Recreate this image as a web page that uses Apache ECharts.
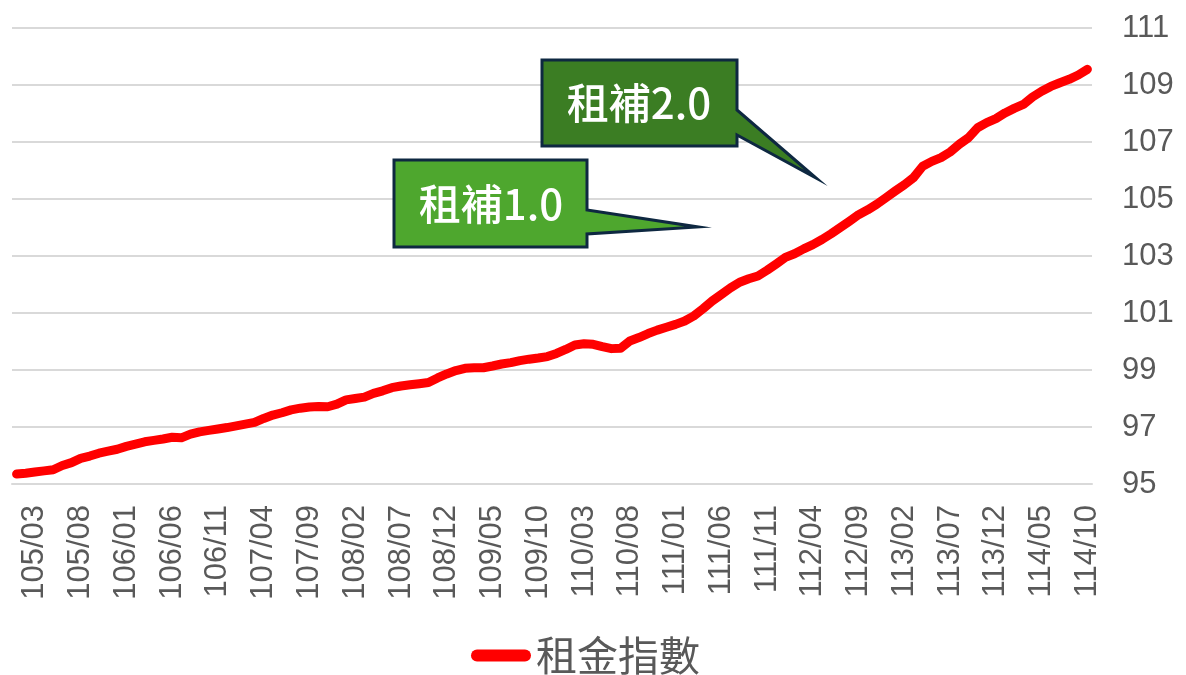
<!DOCTYPE html>
<html>
<head>
<meta charset="utf-8">
<script src="https://cdn.jsdelivr.net/npm/echarts@6/dist/echarts.min.js"></script>
<style>
    html, body { margin: 0; padding: 0; background: #fff; }
    #chart { width: 1186px; height: 675px; }
</style>
</head>
<body>
<div id="chart"></div>
<script>
// 月份：105/01 ~ 114/10（民國年）
const startYear = 105;
const monthCount = 118;
const months = [];
for (let i = 0; i < monthCount; i++) {
    const y = startYear + Math.floor(i / 12);
    const m = (i % 12) + 1;
    months.push(y + '/' + (m < 10 ? '0' + m : m));
}

// 租金指數
const rentIndex = [
    95.35, 95.38, 95.42, 95.46, 95.50, 95.65, 95.75, 95.90, 95.98, 96.08,
    96.15, 96.22, 96.32, 96.40, 96.48, 96.53, 96.58, 96.64, 96.62, 96.75,
    96.83, 96.88, 96.93, 96.98, 97.04, 97.10, 97.16, 97.30, 97.42, 97.50,
    97.60, 97.66, 97.70, 97.72, 97.71, 97.80, 97.95, 98.00, 98.05, 98.18,
    98.27, 98.38, 98.44, 98.48, 98.52, 98.56, 98.72, 98.86, 98.98, 99.06,
    99.08, 99.08, 99.14, 99.21, 99.26, 99.33, 99.38, 99.42, 99.47, 99.58,
    99.72, 99.88, 99.92, 99.90, 99.82, 99.75, 99.76, 100.02, 100.14, 100.28,
    100.40, 100.50, 100.60, 100.72, 100.90, 101.15, 101.42, 101.65, 101.88, 102.08,
    102.20, 102.30, 102.50, 102.72, 102.95, 103.08, 103.25, 103.40, 103.58, 103.78,
    104.00, 104.22, 104.45, 104.62, 104.82, 105.05, 105.28, 105.50, 105.75, 106.15,
    106.32, 106.45, 106.65, 106.92, 107.15, 107.50, 107.68, 107.82, 108.02, 108.18,
    108.32, 108.58, 108.78, 108.95, 109.08, 109.20, 109.35, 109.55
];

// 軸刻度
const yMin = 95, yMax = 111, yStep = 2;
const labelFirst = 2, labelEvery = 5;   // 105/03 起每 5 個月一個標籤

const seriesName = '租金指數';
const callouts = ['租補1.0', '租補2.0'];

const grey = '#595959';
const gridColor = '#d9d9d9';
const latin = '"Liberation Sans", Arial, sans-serif';
const cjk = '"Noto Sans CJK TC", "Noto Sans", sans-serif';

const chart = echarts.init(document.getElementById('chart'));

const options = {
    animation: false,
    grid: {
        left: 12,
        right: 94,
        top: 28,
        bottom: 191
    },
    legend: {
        data: [seriesName],
        top: 630,
        left: 466,
        itemWidth: 60,
        itemHeight: 13,
        icon: 'path://M6,0 L54,0 A6,6 0 0 1 54,12 L6,12 A6,6 0 0 1 6,0 Z',
        textStyle: {
            color: grey,
            fontSize: 41,
            fontFamily: cjk
        }
    },
    xAxis: {
        type: 'category',
        data: months,
        boundaryGap: true,
        axisLine: {lineStyle: {color: gridColor, width: 2}},
        axisTick: {show: false},
        axisLabel: {
            rotate: 90,
            margin: 21,
            color: grey,
            fontSize: 31,
            fontFamily: latin,
            interval: (idx) => idx >= labelFirst && (idx - labelFirst) % labelEvery === 0
        }
    },
    yAxis: {
        type: 'value',
        position: 'right',
        min: yMin,
        max: yMax,
        interval: yStep,
        axisLine: {show: false},
        axisTick: {show: false},
        axisLabel: {
            margin: 30,
            color: grey,
            fontSize: 31,
            fontFamily: latin
        },
        splitLine: {lineStyle: {color: gridColor, width: 2}}
    },
    series: [{
        name: seriesName,
        type: 'line',
        data: rentIndex,
        showSymbol: false,
        symbol: 'none',
        smooth: false,
        color: '#ff0000',
        lineStyle: {
            color: '#ff0000',
            width: 9,
            cap: 'round',
            join: 'round'
        }
    }],
    // 說明框（租補 1.0 / 2.0）
    graphic: [
        {
            type: 'polygon',
            z: 100,
            shape: {points: [[394, 160], [587, 160], [587, 210], [698, 227], [587, 234], [587, 247], [394, 247]]},
            style: {fill: '#4ea72e', stroke: '#0e2841', lineWidth: 3, lineJoin: 'miter'}
        },
        {
            type: 'text',
            z: 101,
            x: 491,
            y: 204,
            style: {text: callouts[0], fill: '#ffffff', fontSize: 42, fontWeight: 500, fontFamily: cjk, align: 'center', verticalAlign: 'middle'}
        },
        {
            type: 'polygon',
            z: 100,
            shape: {points: [[542, 60], [737, 60], [737, 110], [816, 178], [737, 135], [737, 146], [542, 146]]},
            style: {fill: '#3b7d23', stroke: '#0e2841', lineWidth: 3, lineJoin: 'miter'}
        },
        {
            type: 'text',
            z: 101,
            x: 639,
            y: 103,
            style: {text: callouts[1], fill: '#ffffff', fontSize: 42, fontWeight: 500, fontFamily: cjk, align: 'center', verticalAlign: 'middle'}
        }
    ]
};

chart.setOption(options);
</script>
</body>
</html>
